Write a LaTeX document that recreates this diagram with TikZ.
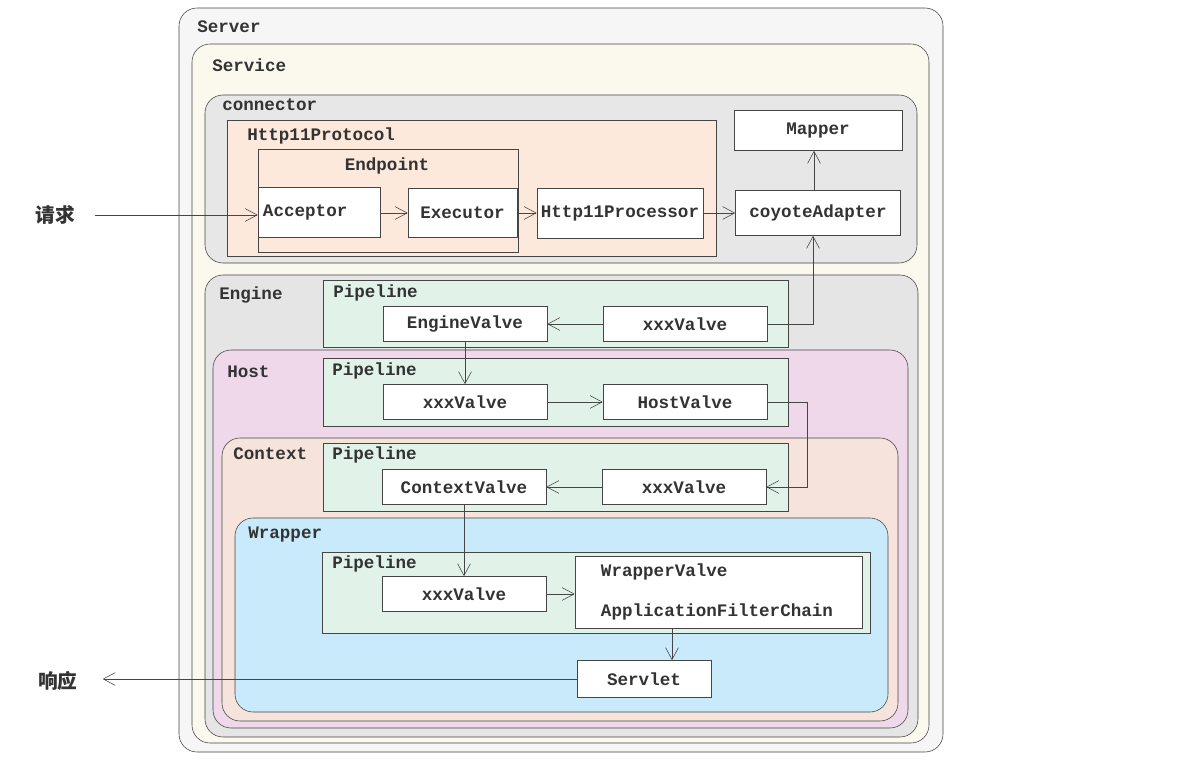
\documentclass[tikz,border=0pt]{standalone}
\usepackage{fontspec}
\setmonofont{Liberation Mono}
\newfontfamily\cjk{Noto Sans CJK SC}
\usetikzlibrary{arrows.meta}
\definecolor{linec}{HTML}{454545}
\definecolor{serverc}{HTML}{F6F6F6}
\definecolor{servicec}{HTML}{FBF8EE}
\definecolor{connc}{HTML}{E7E7E7}
\definecolor{protoc}{HTML}{FDE8DC}
\definecolor{enginec}{HTML}{E5E5E5}
\definecolor{hostc}{HTML}{EFD8EA}
\definecolor{contextc}{HTML}{F6E3DC}
\definecolor{wrapperc}{HTML}{C9EAFB}
\definecolor{pipec}{HTML}{E1F3E9}
\begin{document}
\begin{tikzpicture}[x=0.025cm, y=-0.025cm,
		font=\ttfamily\bfseries\fontsize{12.5}{14}\selectfont, text=black!80,
		frame/.style={draw=linec, rounded corners=0.45cm},
		pipe/.style={draw=linec, fill=pipec},
		valve/.style={draw=linec, fill=white, inner sep=0pt, minimum width=4.1cm, minimum height=0.875cm},
		flow/.style={draw=linec, -{Straight Barb[length=3mm,width=3.2mm]}},
		lbl/.style={anchor=west, inner sep=0pt},
		cn/.style={font=\cjk\bfseries\fontsize{14}{16}\selectfont}
		]
	\useasboundingbox (0,0) rectangle (1178,763);
	\draw[frame, fill=serverc] (179,8) rectangle (943,752);
	\node[lbl] (serverlbl) at (197,27) {Server};
	\draw[frame, fill=servicec] (192,44) rectangle (929,743);
	\node[lbl] (servicelbl) at (212,65) {Service};
	\draw[frame, fill=connc] (205,95) rectangle (917,263);
	\node[lbl] (connlbl) at (222,105) {connector};
	\draw[draw=linec, fill=protoc] (227,120) rectangle (716,256);
	\node[lbl] (protolbl) at (247,136) {Http11Protocol};
	\draw[draw=linec, fill=protoc] (258,149) rectangle (518,252);
	\node (endpointlbl) at (387,166) {Endpoint};
	\node[valve, minimum width=3.05cm, minimum height=1.25cm, text width=2.8cm, inner xsep=0.125cm] (acceptor) at (319,212) {Acceptor};
	\node[valve, minimum width=2.725cm, minimum height=1.225cm] (executor) at (462.5,213) {Executor};
	\node[valve, minimum width=4.15cm, minimum height=1.25cm] (processor) at (620,213) {Http11Processor};
	\node[valve, minimum width=4.125cm, minimum height=1.125cm] (adapter) at (818,213) {coyoteAdapter};
	\node[valve, minimum width=4.2cm, minimum height=1cm] (mapper) at (818,130.5) {Mapper};
	\node[cn] (req) at (55,215) {请求};
	\draw[flow, shorten <=0.375cm] (req.east) -- (req.east -| acceptor.west);
	\draw[flow] (acceptor.east |- executor) -- (executor);
	\draw[flow] (executor) -- (processor);
	\draw[flow] (processor) -- (adapter);
	\draw[flow] ([xshift=-0.1cm]adapter.north) -- ([xshift=-0.1cm]mapper.south);
	\draw[frame, fill=enginec] (205,275) rectangle (918,737);
	\node[lbl] (enginelbl) at (219,295) {Engine};
	\draw[pipe] (323,280) rectangle (788,347);
	\node[lbl] (enginepipe) at (333,293) {Pipeline};
	\node[valve] (enginevalve) at (465,324) {EngineValve};
	\node[valve] (enginexxx) at (685,324) {xxxValve};
	\draw[frame, fill=hostc] (213,350) rectangle (908,728);
	\node[lbl] (hostlbl) at (227,372) {Host};
	\draw[pipe] (323,358) rectangle (788,426);
	\node[lbl] (hostpipe) at (332,371) {Pipeline};
	\node[valve] (hostxxx) at (465,402) {xxxValve};
	\node[valve] (hostvalve) at (685,402) {HostValve};
	\draw[frame, fill=contextc] (222,438) rectangle (898,721);
	\node[lbl] (contextlbl) at (233,454) {Context};
	\draw[pipe] (323,443) rectangle (788,511);
	\node[lbl] (contextpipe) at (332,455) {Pipeline};
	\node[valve] (contextvalve) at (464,487) {ContextValve};
	\node[valve] (contextxxx) at (684,487) {xxxValve};
	\draw[frame, fill=wrapperc] (235,518) rectangle (888,712);
	\node[lbl] (wrapperlbl) at (248,535) {Wrapper};
	\draw[pipe] (322,552) rectangle (870,633);
	\node[lbl] (wrapperpipe) at (332,564) {Pipeline};
	\node[valve] (wrapperxxx) at (464,594) {xxxValve};
	\node[valve, minimum width=7.175cm, minimum height=1.8cm, align=left, text width=5.875cm, inner xsep=0.65cm] (wrappervalve) at (718.5,592) {WrapperValve\\[0.5cm]ApplicationFilterChain};
	\node[valve, minimum width=3.35cm, minimum height=0.925cm] (servlet) at (644,679) {Servlet};
	\node[cn] (resp) at (58,681) {响应};
	\draw[flow] (enginexxx.east) -| ([xshift=-0.125cm]adapter.south);
	\draw[flow] (enginexxx) -- (enginevalve);
	\draw[flow] (enginevalve) -- (hostxxx);
	\draw[flow] (hostxxx) -- (hostvalve);
	\draw[flow] (hostvalve.east) -- ++(40,0) |- (contextxxx.east);
	\draw[flow] (contextxxx) -- (contextvalve);
	\draw[flow] (contextvalve) -- (wrapperxxx);
	\draw[flow] (wrapperxxx.east) -- (wrapperxxx.east -| wrappervalve.west);
	\draw[flow] ([xshift=0.7cm]servlet.north |- wrappervalve.south) -- ([xshift=0.7cm]servlet.north);
	\draw[flow, shorten >=0.5cm] (servlet.west) -- (servlet.west -| resp.east);
\end{tikzpicture}
\end{document}
